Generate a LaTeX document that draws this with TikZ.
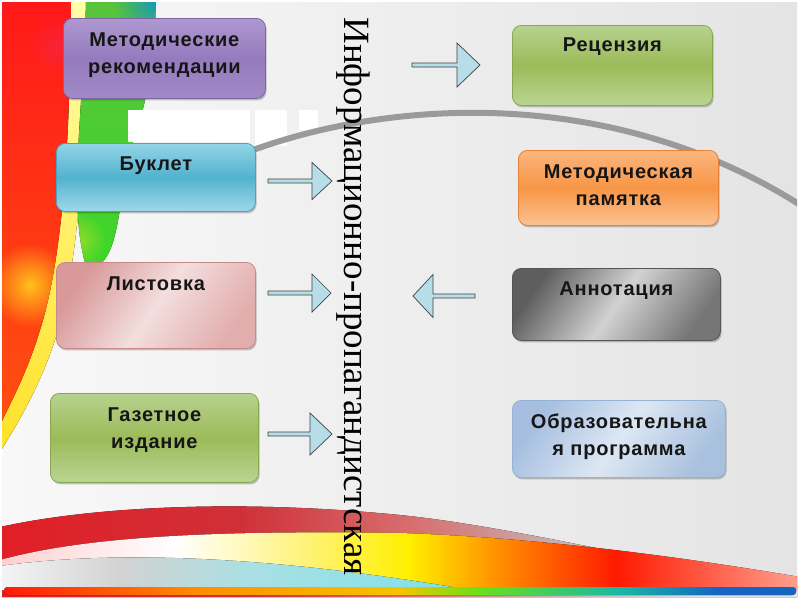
\documentclass[tikz,border=0pt]{standalone}
\usepackage{fontspec}
\setmainfont{Liberation Serif}
\newfontfamily\boxfont[LetterSpace=4]{Liberation Sans}
\usetikzlibrary{shadows,fadings}
\definecolor{slidebgL}{HTML}{F8F8F8}
\definecolor{slidebgR}{HTML}{E4E4E4}
\definecolor{txtdark}{HTML}{161616}
\definecolor{arrfill}{HTML}{B7DEE8}
\definecolor{arrline}{HTML}{404040}
\definecolor{arcgray}{HTML}{9A9A9A}
% left decoration colours
\definecolor{yelT}{HTML}{FFFFAA}
\definecolor{yelB}{HTML}{FFE128}
\definecolor{redT}{HTML}{FF1919}
\definecolor{redM}{HTML}{FF8C19}
\definecolor{redB}{HTML}{FF500F}
\definecolor{grnT}{HTML}{5AC33C}
\definecolor{grnB}{HTML}{3CD728}
\definecolor{glowY}{HTML}{FFE11E}
\definecolor{glowM}{HTML}{F0285A}
\definecolor{glowT}{HTML}{1496BE}
\definecolor{glowG}{HTML}{B4E028}
% rainbow bar
\definecolor{rbA}{HTML}{FF1A0A}
\definecolor{rbB}{HTML}{FF8C00}
\definecolor{rbC}{HTML}{F5C400}
\definecolor{rbD}{HTML}{66E21A}
\definecolor{rbE}{HTML}{19B6A8}
\definecolor{rbF}{HTML}{1565C0}
% sun band
\definecolor{sbA}{HTML}{FFD0D0}
\definecolor{sbB}{HTML}{FFFFFF}
\definecolor{sbC}{HTML}{FFF27A}
\definecolor{sbD}{HTML}{FFF000}
\definecolor{sbE}{HTML}{FF9A00}
\definecolor{sbF}{HTML}{FF1A00}
\definecolor{sbG}{HTML}{FFA090}
% red band
\definecolor{rdA}{HTML}{E21E26}
\definecolor{rdB}{HTML}{CF3038}
\definecolor{rdC}{HTML}{D87070}
\definecolor{rdD}{HTML}{C8B0B0}
\definecolor{rdE}{HTML}{E4E4E4}
% cyan band
\definecolor{cbA}{HTML}{F4F4F4}
\definecolor{cbB}{HTML}{D2D2D2}
\definecolor{cbC}{HTML}{A8E0E4}
\definecolor{cbD}{HTML}{7EE0E8}
\pgfdeclarehorizontalshading{rainbowbar}{100bp}{color(0bp)=(rbA); color(25bp)=(rbA); color(37bp)=(rbB); color(50bp)=(rbC); color(55bp)=(rbD); color(64bp)=(rbE); color(70bp)=(rbF); color(75bp)=(rbF); color(100bp)=(rbF)}
\pgfdeclarehorizontalshading{sunband}{100bp}{color(0bp)=(sbA); color(25bp)=(sbA); color(36bp)=(sbB); color(44bp)=(sbC); color(50.5bp)=(sbD); color(55.5bp)=(sbE); color(63.5bp)=(sbF); color(75bp)=(sbG); color(100bp)=(sbG)}
\pgfdeclarehorizontalshading{redband}{100bp}{color(0bp)=(rdA); color(25bp)=(rdA); color(40bp)=(rdB); color(51bp)=(rdC); color(60bp)=(rdD); color(69bp)=(rdE); color(75bp)=(rdE); color(100bp)=(rdE)}
\pgfdeclarehorizontalshading{cyanband}{100bp}{color(0bp)=(cbA); color(25bp)=(cbA); color(38bp)=(cbB); color(52bp)=(cbC); color(75bp)=(cbD); color(100bp)=(cbD)}
\tikzfading[name=glow, inner color=transparent!0, outer color=transparent!100]
% box colours
\definecolor{puT}{HTML}{AE98D0}\definecolor{puM}{HTML}{957BBE}\definecolor{puB}{HTML}{A18AC8}\definecolor{puL}{HTML}{7D65A3}
\definecolor{blT}{HTML}{93D5E7}\definecolor{blM}{HTML}{52B2CD}\definecolor{blB}{HTML}{9FD9E9}\definecolor{blL}{HTML}{4AA3BD}
\definecolor{piT}{HTML}{D9999A}\definecolor{piM}{HTML}{F3DEDE}\definecolor{piB}{HTML}{E2AEAD}\definecolor{piL}{HTML}{C98888}
\definecolor{grT}{HTML}{B6D28E}\definecolor{grM}{HTML}{9BBB59}\definecolor{grB}{HTML}{B9D592}\definecolor{grL}{HTML}{88A850}
\definecolor{orT}{HTML}{FBB57E}\definecolor{orM}{HTML}{F79646}\definecolor{orB}{HTML}{FBC291}\definecolor{orL}{HTML}{E3843A}
\definecolor{gyT}{HTML}{5E5E5E}\definecolor{gyM}{HTML}{D2D2D2}\definecolor{gyB}{HTML}{767676}\definecolor{gyL}{HTML}{555555}
\definecolor{lbT}{HTML}{A6BFE0}\definecolor{lbM}{HTML}{DDE7F3}\definecolor{lbB}{HTML}{A9C1DF}\definecolor{lbL}{HTML}{96B3D6}
\begin{document}
\begin{tikzpicture}[x=1pt,y=-1pt,
  box/.style={draw, line width=0.8pt, rounded corners=9pt, inner sep=0pt, anchor=north west,
    drop shadow={shadow xshift=1.2pt, shadow yshift=-2pt, opacity=0.22, fill=black}},
  lbl/.style={font=\boxfont\bfseries\fontsize{20}{27}\selectfont, text=txtdark, align=center, inner sep=0pt, anchor=north},
  purplebox/.style={box, draw=puL, top color=puT, bottom color=puB, middle color=puM},
  bluebox/.style={box, draw=blL, top color=blT, bottom color=blB, middle color=blM},
  pinkbox/.style={box, draw=piL, top color=piT, bottom color=piB, middle color=piM, shading angle=55},
  greenbox/.style={box, draw=grL, top color=grT, bottom color=grB, middle color=grM},
  orangebox/.style={box, draw=orL, top color=orT, bottom color=orB, middle color=orM},
  graybox/.style={box, draw=gyL, top color=gyT, bottom color=gyB, middle color=gyM, shading angle=55},
  lightbox/.style={box, draw=lbL, top color=lbT, bottom color=lbB, middle color=lbM, shading angle=55},
  arrowst/.style={draw=arrline, line width=0.7pt, fill=arrfill, line join=miter},
  pics/barrow/.style n args={3}{code={
    \draw[arrowst] (0,-2) -- ({#1-#2},-2) -- ({#1-#2},-#3) -- (#1,0) -- ({#1-#2},#3) -- ({#1-#2},2) -- (0,2) -- cycle;}}
]
\useasboundingbox (0,0) rectangle (800,600);
\fill[white] (0,0) rectangle (800,600);
\fill[left color=slidebgL, right color=slidebgR] (2,2) rectangle (797,597);

\begin{scope}
\clip (2,2) rectangle (797,597);
% left decoration
\fill[top color=yelT, bottom color=yelB]
  (0,0) -- (88,0) .. controls (86,150) and (78,270) .. (55,340) .. controls (40,385) and (20,420) .. (0,452) -- cycle;
\fill[top color=redT, middle color=redM, bottom color=redB]
  (0,0) -- (71,0) .. controls (70,150) and (62,260) .. (40,330) .. controls (28,370) and (12,400) .. (0,425) -- cycle;
\begin{scope}
\clip (0,0) -- (71,0) .. controls (70,150) and (62,260) .. (40,330) .. controls (28,370) and (12,400) .. (0,425) -- cycle;
\fill[glowY, path fading=glow, fill opacity=0.8] (30,285) circle (42);
\fill[glowM, path fading=glow, fill opacity=0.5] (58,45) circle (30);
\end{scope}
\fill[top color=grnT, bottom color=grnB]
  (86,0) -- (156,0) .. controls (154,60) and (148,100) .. (132,145) .. controls (122,175) and (122,215) .. (112,245)
  .. controls (106,262) and (96,270) .. (88,272) .. controls (66,210) and (84,110) .. (86,0) -- cycle;
\begin{scope}
\clip (86,0) -- (156,0) .. controls (154,60) and (148,100) .. (132,145) .. controls (122,175) and (122,215) .. (112,245)
  .. controls (106,262) and (96,270) .. (88,272) .. controls (66,210) and (84,110) .. (86,0) -- cycle;
\fill[glowT, path fading=glow] (158,0) circle (45);
\fill[glowG, path fading=glow, fill opacity=0.7] (78,240) circle (28);
\end{scope}
% bottom decoration
\fill[shading=redband]
  (0,527) .. controls (100,505) and (250,500) .. (400,515) .. controls (500,525) and (650,560) .. (800,590) -- (800,597) -- (0,597) -- cycle;
\fill[shading=sunband]
  (0,560) .. controls (80,538) and (200,530) .. (400,533) .. controls (550,538) and (700,560) .. (800,577) -- (800,590) -- (0,590) -- cycle;
\fill[shading=cyanband]
  (0,566) .. controls (100,552) and (250,552) .. (470,590) -- (0,590) -- cycle;
\fill[shading=rainbowbar, rounded corners=3.5pt] (4,587) rectangle (796,595);
% white blocks
\fill[white] (128,110) rectangle (250,142);
\fill[white] (255,110) rectangle (287,146);
\fill[white] (299,110) rectangle (318,130);
% grey arc
\draw[arcgray, line width=6pt] (253,150) .. controls (400,97) and (620,88) .. (805,208);
\end{scope}

% boxes, left column
\node[purplebox, minimum width=202pt, minimum height=80pt] (m1) at (63,18) {};
\node[bluebox,   minimum width=199pt, minimum height=68pt] (m2) at (56,143) {};
\node[pinkbox,   minimum width=199pt, minimum height=86pt] (m3) at (56,262) {};
\node[greenbox,  minimum width=208pt, minimum height=89pt] (m4) at (50,393) {};
% boxes, right column
\node[greenbox,  minimum width=200pt, minimum height=80pt] (m5) at (512,25) {};
\node[orangebox, minimum width=200pt, minimum height=75pt] (m6) at (518,150) {};
\node[graybox,   minimum width=208pt, minimum height=72pt] (m7) at (512,268) {};
\node[lightbox,  minimum width=213pt, minimum height=77pt] (m8) at (512,400) {};

\node[lbl] (t1) at ([yshift=-15pt]m1.north) {Методические\\рекомендации};
\node[lbl] (t2) at ([yshift=-14pt]m2.north) {Буклет};
\node[lbl] (t3) at ([yshift=-15pt]m3.north) {Листовка};
\node[lbl] (t4) at ([yshift=-15pt]m4.north) {Газетное\\издание};
\node[lbl] (t5) at ([yshift=-13pt]m5.north) {Рецензия};
\node[lbl] (t6) at ([yshift=-15pt]m6.north) {Методическая\\памятка};
\node[lbl] (t7) at ([yshift=-14pt]m7.north) {Аннотация};
\node[lbl] (t8) at ([yshift=-14pt]m8.north) {Образовательна\\я программа};

% block arrows
\pic at (412,65)  {barrow={68}{23}{22}};
\pic at (268,181) {barrow={64}{20}{18.5}};
\pic at (268,293) {barrow={63}{19}{19}};
\pic[xscale=-1] at (475,296) {barrow={62}{20}{21.5}};
\pic at (268,434) {barrow={64}{22}{21}};

% vertical title
\node[rotate=-90, anchor=base, inner sep=0pt, font=\fontsize{37}{40}\selectfont] (title) at (344,296.5) {Информационно-пропагандистская};
\end{tikzpicture}
\end{document}
